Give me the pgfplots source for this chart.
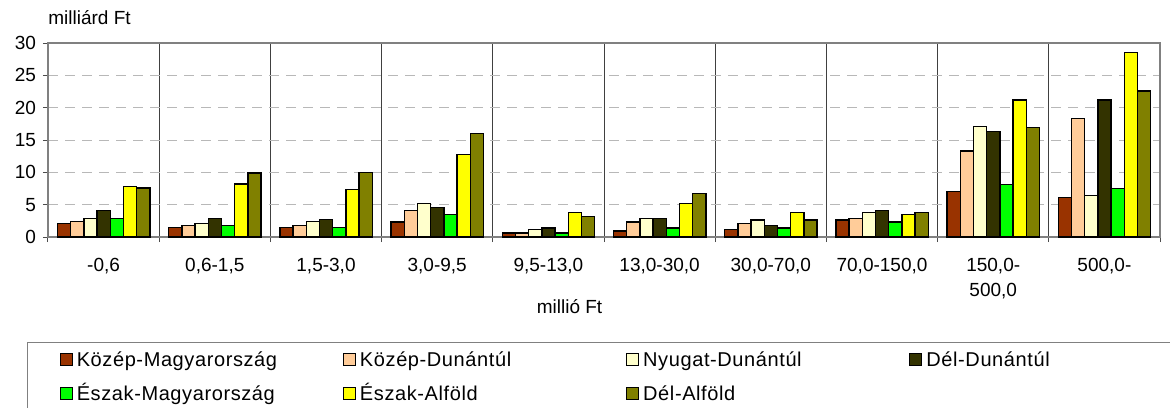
\documentclass[border=0pt]{standalone}
\usepackage{fontspec}
\setmainfont{Liberation Sans}
\newfontfamily\lgdfont[LetterSpace=3]{Liberation Sans}
\usepackage{pgfplots}
\pgfplotsset{compat=1.18}

\definecolor{kmag}{HTML}{993300}
\definecolor{kdun}{HTML}{FFCC99}
\definecolor{ndun}{HTML}{FFFFCC}
\definecolor{ddun}{HTML}{333300}
\definecolor{emag}{HTML}{00FF00}
\definecolor{ealf}{HTML}{FFFF00}
\definecolor{dalf}{HTML}{808000}

\pgfplotsset{sq/.style={legend image code/.code={%
  \draw[##1, draw=black, line width=0.6pt] (0pt,-3pt) rectangle (6pt,3pt);}}}
\newcommand\lgd[1]{\makebox[131pt][l]{\rule[-3.5pt]{0pt}{12pt}#1}}

\begin{document}
\begin{tikzpicture}
\begin{axis}[
  at={(0,0)}, anchor=south west,
  scale only axis, width=556pt, height=97pt,
  ybar=0pt, bar width=6.6pt,
  xmin=-0.5, xmax=9.5, ymin=0, ymax=30,
  xtick={-0.5,0.5,...,9.5}, xticklabels={,,,,,,,,,,},
  xmajorgrids, x grid style={black!75, line width=0.5pt},
  extra x ticks={0,1,...,9},
  extra x tick labels={{-0,6},{0,6-1,5},{1,5-3,0},{3,0-9,5},{9,5-13,0},{13,0-30,0},{30,0-70,0},{70,0-150,0},{150,0-\\500,0},{500,0-}},
  extra x tick style={grid=none, major tick length=0pt},
  ytick={0,5,...,30},
  ymajorgrids, y grid style={black!28, dash pattern=on 5pt off 3.5pt, line width=0.5pt},
  tick pos=left, tick align=outside, major tick length=2.5pt,
  tick style={black!70, line width=0.5pt},
  axis line style={gray, line width=0.6pt},
  /pgf/number format/assume math mode=true,
  ticklabel style={font=\fontsize{9.5}{12.5}\selectfont},
  xticklabel style={align=center, yshift=-7pt},
  xlabel={millió Ft},
  xlabel style={at={(axis description cs:0.469,0)}, anchor=center, yshift=-35pt, font=\fontsize{9.5}{11}\selectfont},
  ylabel={milliárd Ft},
  ylabel style={rotate=-90, at={(axis description cs:0,1)}, anchor=west, yshift=12.5pt, inner sep=0pt, font=\fontsize{9.5}{11}\selectfont},
  legend columns=4,
  legend style={at={(axis description cs:0,0)}, anchor=north west,
    xshift=-10.5pt, yshift=-52.5pt, draw=gray, line width=0.6pt,
    inner xsep=16pt, inner ysep=1.5pt, row sep=3pt,
    font=\lgdfont\fontsize{10}{11}\selectfont},
]
\addplot[fill=kmag, draw=black, line width=0.7pt, sq] coordinates {
  (0,2.06) (1,1.5) (2,1.5) (3,2.3) (4,0.6) (5,0.9) (6,1.2) (7,2.6) (8,7.0) (9,6.1)};
\addlegendentry{\lgd{Közép-Magyarország}}
\addplot[fill=kdun, draw=black, line width=0.7pt, sq] coordinates {
  (0,2.4) (1,1.8) (2,1.8) (3,4.1) (4,0.6) (5,2.3) (6,2.1) (7,2.9) (8,13.3) (9,18.3)};
\addlegendentry{\lgd{Közép-Dunántúl}}
\addplot[fill=ndun, draw=black, line width=0.7pt, sq] coordinates {
  (0,2.9) (1,2.1) (2,2.4) (3,5.2) (4,1.2) (5,2.9) (6,2.6) (7,3.8) (8,17.1) (9,6.4)};
\addlegendentry{\lgd{Nyugat-Dunántúl}}
\addplot[fill=ddun, draw=black, line width=0.7pt, sq] coordinates {
  (0,4.1) (1,2.9) (2,2.7) (3,4.6) (4,1.4) (5,2.9) (6,1.75) (7,4.1) (8,16.3) (9,21.2)};
\addlegendentry{\lgd{Dél-Dunántúl}}
\addplot[fill=emag, draw=black, line width=0.7pt, sq] coordinates {
  (0,2.9) (1,1.8) (2,1.5) (3,3.5) (4,0.6) (5,1.4) (6,1.4) (7,2.3) (8,8.1) (9,7.5)};
\addlegendentry{\lgd{Észak-Magyarország}}
\addplot[fill=ealf, draw=black, line width=0.7pt, sq] coordinates {
  (0,7.8) (1,8.2) (2,7.3) (3,12.8) (4,3.8) (5,5.2) (6,3.8) (7,3.5) (8,21.2) (9,28.5)};
\addlegendentry{\lgd{Észak-Alföld}}
\addplot[fill=dalf, draw=black, line width=0.7pt, sq] coordinates {
  (0,7.6) (1,9.9) (2,10.0) (3,16.0) (4,3.2) (5,6.7) (6,2.6) (7,3.8) (8,16.9) (9,22.6)};
\addlegendentry{\lgd{Dél-Alföld}}
\end{axis}
\pgfresetboundingbox
\path[use as bounding box] (-24pt,-85pt) rectangle (561pt,118.5pt);
\end{tikzpicture}
\end{document}
